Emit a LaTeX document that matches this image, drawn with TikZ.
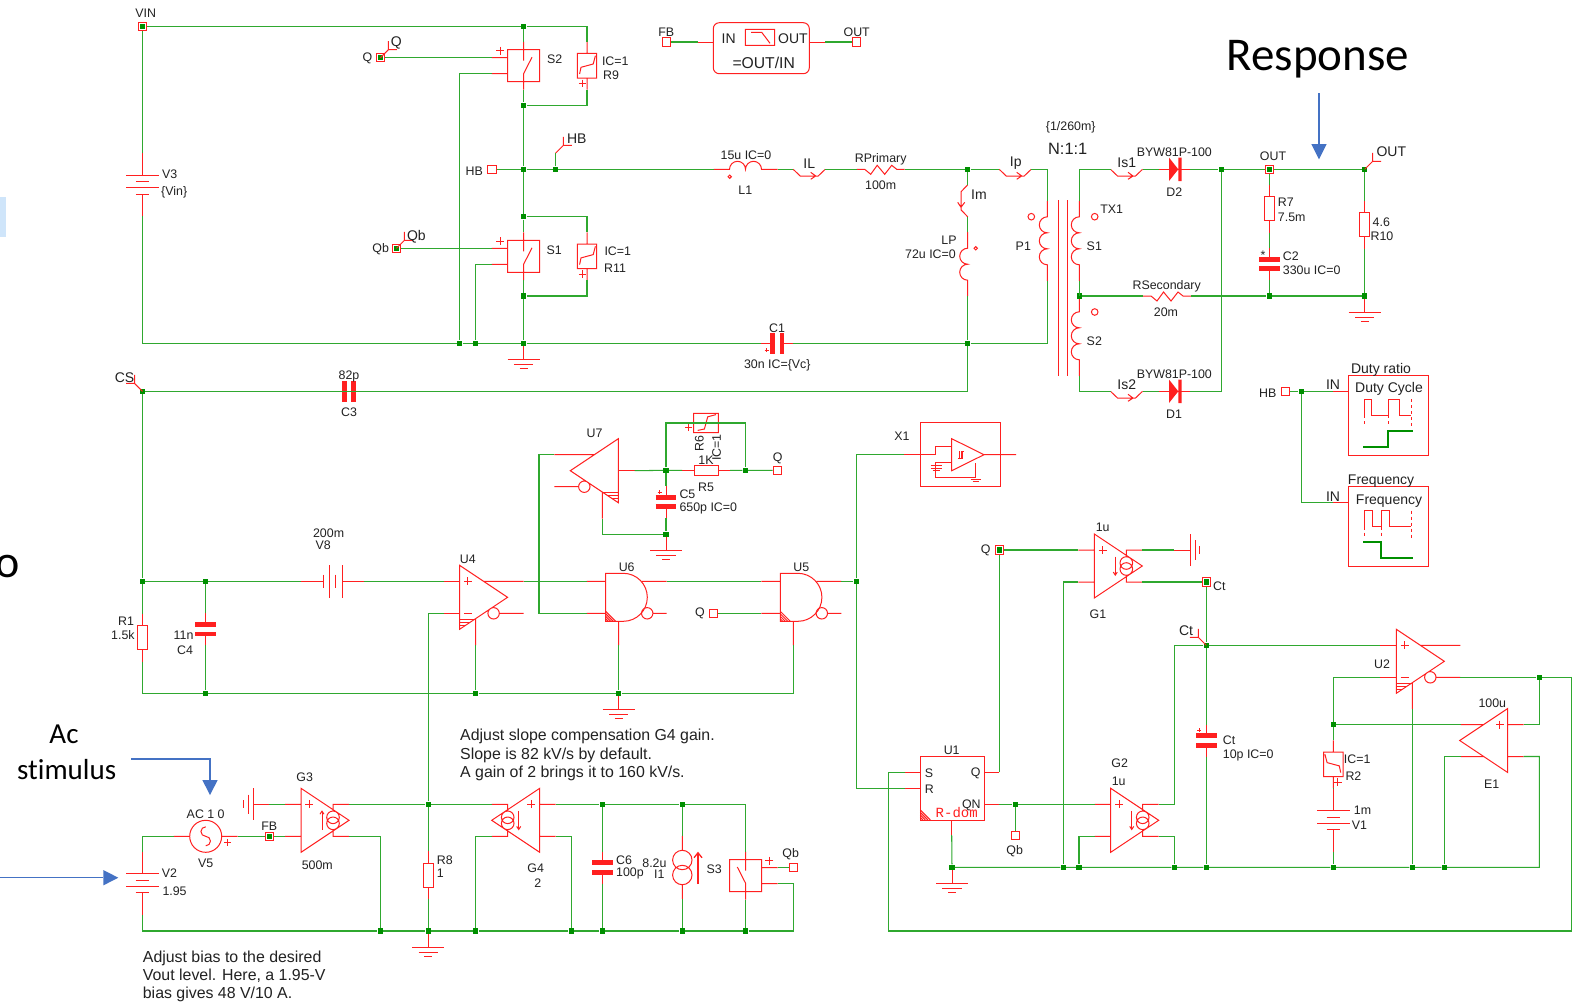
\documentclass[tikz,border=0pt]{standalone}
\usepackage{fontspec}
\setmainfont{Liberation Sans}
\newfontfamily\bigfont[Ligatures=NoCommon]{Carlito}
\newfontfamily\domfont{Liberation Mono}
\usetikzlibrary{arrows.meta}
\definecolor{colorWire}{HTML}{2FA82F}
\definecolor{colorDot}{HTML}{008F00}
\definecolor{colorPart}{HTML}{FF2020}
\definecolor{colorBlue}{HTML}{4472C4}
\definecolor{colorText}{HTML}{222222}
\definecolor{colorBar}{HTML}{CFE5FA}
\newcommand{\plusmark}[3]{\draw[part] (#1-#3,#2) -- (#1+#3,#2) (#1,#2-#3) -- (#1,#2+#3);}
\tikzset{
  wire/.style={draw=colorWire,line width=1.05pt},
  part/.style={draw=colorPart,line width=1pt},
  plate/.style={draw=colorPart,line width=4.7pt},
  jct/.style={rectangle,fill=colorDot,minimum size=5.4pt,inner sep=0pt},
  term/.style={rectangle,draw=colorPart,line width=1pt,minimum size=8.4pt,inner sep=0pt},
  lbl/.style={font=\fontsize{12.4}{14}\selectfont,text=colorText,inner sep=0pt,yshift=-1pt},
  flagt/.style={font=\fontsize{14}{16}\selectfont,text=colorText,inner sep=0pt,yshift=-1pt},
  notet/.style={font=\fontsize{15.9}{18.3}\selectfont,text=colorText,inner sep=0pt,align=left,anchor=west},
  bigt/.style={font=\bigfont\fontsize{29}{33}\selectfont,text=black,inner sep=0pt},
  blue/.style={draw=colorBlue,line width=1.4pt},
  bluehead/.style={fill=colorBlue},
  pics/gnd/.style={code={
    \coordinate (-a) at (0,0);
    \draw[part] (0,0) -- (0,16) (-16,16) -- (16,16) (-9.7,21) -- (9.7,21) (-3.9,25.5) -- (3.9,25.5);
  }},
  pics/res/.style={code={
    \coordinate (-a) at (0,-24);
    \coordinate (-b) at (0,24);
    \draw[part] (0,-24) -- (0,-12) (-5,-12) rectangle (5,12) (0,12) -- (0,24);
  }},
  pics/cap/.style={code={
    \coordinate (-a) at (0,-16);
    \coordinate (-b) at (0,16);
    \draw[part] (0,-16) -- (0,-4.7) (0,4.7) -- (0,16);
    \draw[plate] (-10.3,-4.7) -- (10.3,-4.7) (-10.3,4.7) -- (10.3,4.7);
  }},
  pics/batt/.style={code={
    \coordinate (-a) at (0,-31.6);
    \coordinate (-b) at (0,31.6);
    \draw[part] (0,-31.6) -- (0,-9.6) (-16.3,-9.6) -- (16.3,-9.6) (-6.7,-3) -- (6.7,-3)
      (-16.3,3) -- (16.3,3) (-6.7,9.6) -- (6.7,9.6) (0,9.6) -- (0,31.6);
  }},
  pics/coil/.style={code={
    \coordinate (-a) at (0,{-8*#1-16});
    \coordinate (-b) at (0,{8*#1+16});
    \draw[part] (0,{-8*#1-16}) -- (0,{-8*#1}) \foreach \k in {1,...,#1}{ arc[start angle=90,end angle=270,radius=8pt] } -- (0,{8*#1+16});
  }},
  pics/zig/.style={code={
    \coordinate (-a) at (-24,0);
    \coordinate (-b) at (24,0);
    \draw[part] (-24,0) -- (-16,0) -- (-10,5) -- (-3.5,-4) -- (4,5) -- (11,-4) -- (16,0) -- (24,0);
  }},
  pics/probe/.style={code={
    \coordinate (-a) at (-16,0);
    \coordinate (-b) at (16,0);
    \draw[part] (-16,0) -- (-9,6.7) -- (9,6.7) -- (16,0) (1.5,3) -- (6.5,6.7) -- (1.5,10);
  }},
  pics/diode/.style={code={
    \coordinate (-a) at (-15.3,0);
    \coordinate (-b) at (15.7,0);
    \draw[part] (-15.3,0) -- (-5,0) (4,0) -- (15.7,0);
    \fill[colorPart] (-5.3,-11.7) -- (4,0) -- (-5.3,11.7) -- cycle (4,-11.7) rectangle (7.4,11.7);
  }},
  pics/flag/.style={code={
    \coordinate (-a) at (0,0);
    \draw[part] (0,0) -- (8,-8) (8,-16.5) -- (8,-8) -- (16.5,-8);
  }},
  pics/sw/.style={code={
    \coordinate (-t) at (0,-24);
    \coordinate (-b) at (0,24);
    \coordinate (-c) at (-32,-8);
    \coordinate (-d) at (-32,8);
    \draw[part] (-16,-16) rectangle (16,16) (0,-24) -- (0,-5) (0,24) -- (0,8) -- (8.4,-8.5)
      (-32,-8) -- (-16,-8) (-32,8) -- (-16,8);
    \plusmark{-23.6}{-15}{4}
  }},
  pics/vres/.style={code={
    \coordinate (-a) at (0,-24);
    \coordinate (-b) at (0,24);
    \draw[part] (0,-24) -- (0,-12.3) (-9.7,-12.3) rectangle (9.7,12.3) (0,12.3) -- (0,24)
      (-7.4,8.3) -- (-6,1.6) -- (6.2,-1.7) -- (8.4,-10);
    \plusmark{-4.5}{17.7}{3.7}
  }},
  pics/comp/.style={code={
    \coordinate (-c) at (0,0);
    \coordinate (-o) at (64,-16);
    \coordinate (-n) at (64,16);
    \coordinate (-g) at (16,48);
    \draw[part] (0,-32) -- (48,0) -- (0,32) -- cycle (24,-16) -- (64,-16)
      (34,16) circle[radius=5.7pt] (39.7,16) -- (64,16) (16,21.3) -- (16,48);
    \foreach \h in {22,25,28}{ \draw[part] (0,\h) -- ({(32-\h)*1.5},\h); }
  }},
  pics/cin/.style={code={
    \coordinate (-a) at (-16,-16);
    \coordinate (-b) at (-16,16);
    \draw[part] (-16,-16) -- (0,-16) (-16,16) -- (0,16) (4.3,16) -- (12.3,16);
    \plusmark{8.3}{-16}{4}
  }},
  pics/gm/.style={code={
    \coordinate (-a) at (-16,-16);
    \coordinate (-b) at (-16,16);
    \coordinate (-p) at (48,-16);
    \coordinate (-q) at (48,16);
    \draw[part] (0,-32) -- (48,0) -- (0,32) -- cycle (-16,-16) -- (0,-16) (-16,16) -- (0,16)
      (48,-16) -- (32,-16) -- (32,-9.3) (48,16) -- (32,16) -- (32,9.3)
      (32,-3) circle[radius=6.3pt] (32,3) circle[radius=6.3pt];
    \draw[part,-{Straight Barb[length=3pt,width=4pt]}] (21,{-9.5*#1}) -- (21,{10*#1});
    \plusmark{8.3}{-16}{4}
  }},
  pics/opa/.style={code={
    \coordinate (-a) at (-16,-16);
    \coordinate (-b) at (-16,16);
    \coordinate (-p) at (47,-16);
    \coordinate (-q) at (47,16);
    \draw[part] (0,-32) -- (48,0) -- (0,32) -- cycle (-16,-16) -- (0,-16) (-16,16) -- (0,16)
      (24,-16) -- (47,-16) (24,16) -- (47,16);
    \plusmark{8}{-16}{4}
  }},
  pics/gate/.style={code={
    \coordinate (-a) at (-19,-16);
    \coordinate (-b) at (-19,16);
    \coordinate (-o) at (61,-16);
    \coordinate (-g) at (13,48);
    \draw[part] (17.6,-24) arc[start angle=90,end angle=-90,radius=24pt] -- (0,24) -- (0,-24) -- cycle;
    \draw[part] (-19,-16) -- (0,-16) (-19,16) -- (0,16) (36,-16) -- (61,-16) (13,24) -- (13,48)
      (41.5,16) circle[radius=5.7pt] (47.2,16) -- (61,16);
    \draw[part] (0,14) -- (10,24) (0,16.5) -- (7.5,24) (0,19) -- (5,24) (0,21.5) -- (2.5,24);
  }},
  pics/isrc/.style={code={
    \coordinate (-a) at (0,-31.7);
    \coordinate (-b) at (0,31.7);
    \draw[part] (0,-31.7) -- (0,-17.2) (0,17.2) -- (0,31.7)
      (0,-7.5) circle[radius=9.7pt] (0,7.5) circle[radius=9.7pt];
  }},
  pics/acsrc/.style={code={
    \coordinate (-a) at (-32,0);
    \coordinate (-b) at (32,0);
    \draw[part] (-32,0) -- (-16,0) (0,0) circle[radius=16pt] (16,0) -- (32,0)
      (0,-9.5) arc[start angle=90,end angle=270,radius=4.75pt] arc[start angle=90,end angle=-90,radius=4.75pt];
    \plusmark{22}{6.3}{3.3}
  }},
}
\begin{document}
\begin{tikzpicture}[x=1pt,y=-1pt]
  \useasboundingbox (0,0) rectangle (1584,1002);
  \fill[white] (0,0) rectangle (1584,1002);
  \fill[colorBar] (0,196.7) rectangle (6,236.7);
  \node[bigt,font=\bigfont\fontsize{46}{50}\selectfont] (tCut) at (7.5,566) {o};

  \pic (V3) at (142.5,184.7) {batt};
  \pic (S2) at (523.6,65.7) {sw};
  \pic (R9) at (587,65.7) {vres};
  \pic (S1) at (523.6,256.3) {sw};
  \pic (R11) at (587,256.3) {vres};
  \pic[rotate=-90] (L1) at (745.5,169.3) {coil=2};
  \pic (IL) at (809.2,169.3) {probe};
  \pic (RP) at (880.7,169.3) {zig};
  \pic[rotate=-90] (Im) at (967.7,200.8) {probe};
  \pic (LP) at (967.7,264.2) {coil=2};
  \pic (Ip) at (1015.2,169.3) {probe};
  \pic[rotate=90] (C1) at (777.3,343.3) {cap};
  \pic (P1) at (1047.3,240.8) {coil=3};
  \pic (S1c) at (1079.3,240.8) {coil=3};
  \pic (S2c) at (1079.3,335.8) {coil=3};
  \pic (Is1) at (1126.5,169.3) {probe};
  \pic (Is2) at (1126.5,391.3) {probe};
  \pic (D2) at (1174.3,169.3) {diode};
  \pic (D1) at (1174.3,391.3) {diode};
  \pic (RS) at (1167,296) {zig};
  \pic (R7) at (1269.3,208.7) {res};
  \pic (C2) at (1269.3,264) {cap};
  \pic (R10) at (1364.7,224.5) {res};
  \pic (gC) at (1364.7,296) {gnd};
  \pic (gA) at (523.6,343.3) {gnd};
  \pic[rotate=90] (C3) at (349,391.3) {cap};
  \pic (R1) at (142.5,637.5) {res};
  \pic (C4) at (205.4,629.3) {cap};
  \pic[rotate=-90] (V8) at (332.7,581.3) {batt};
  \pic (U4) at (459.6,597.3) {comp};
  \pic (U4) at (459.6,597.3) {cin};
  \pic[xscale=-1] (U7) at (618.3,470.7) {comp};
  \pic (U6) at (605.7,597.3) {gate};
  \pic (U5) at (780.3,597.3) {gate};
  \pic (gU6) at (618.7,693.3) {gnd};
  \pic[rotate=90] (R5) at (706,470.3) {res};
  \pic[rotate=-90,xscale=-1] (R6) at (706,423) {vres};
  \pic (C5) at (666,502) {cap};
  \pic (gC5) at (666,534.3) {gnd};
  \pic (G1) at (1094.3,566) {gm=1};
  \pic[rotate=90] (gG1) at (1174.3,550) {gnd};
  \pic (G2) at (1110.7,820.3) {gm=1};
  \pic (Ct) at (1206.3,740.5) {cap};
  \pic (U2) at (1396.3,661.3) {comp};
  \pic (U2) at (1396.3,661.3) {cin};
  \pic[xscale=-1] (E1) at (1507.7,740.5) {opa};
  \pic[xscale=-1] (R2) at (1333.3,764.3) {vres};
  \pic (V1) at (1333.3,820) {batt};
  \pic (gU1) at (952,867.3) {gnd};
  \pic (V5) at (205.7,836.3) {acsrc};
  \pic (V2) at (142.3,883.3) {batt};
  \pic (G3) at (301,820.3) {gm=-1};
  \pic[rotate=-90] (gG3) at (269.3,804.3) {gnd};
  \pic[xscale=-1] (G4) at (539.7,820.3) {gm=1};
  \pic (R8) at (428.3,875.3) {res};
  \pic (gR8) at (428.3,931) {gnd};
  \pic (C6) at (602.3,867.5) {cap};
  \pic (I1) at (682.3,867.5) {isrc};
  \pic[xscale=-1] (S3) at (745.7,875.5) {sw};

  \node[term] (vinT) at (142.5,26.3) {};
  \node[term] (qT) at (380.4,57.7) {};
  \node[term] (qbT) at (396.4,248.3) {};
  \node[term] (hbT) at (491.8,169.3) {};
  \node[term] (fbT) at (666.3,42) {};
  \node[term] (outT) at (856.7,42) {};
  \node[term] (voT) at (1269.3,169.3) {};
  \node[term] (hbrT) at (1285.7,391.3) {};
  \node[term] (q5T) at (777.3,470.3) {};
  \node[term] (q6T) at (713.7,613.3) {};
  \node[term] (qrT) at (999.3,550) {};
  \node[term] (ctT) at (1206.3,582) {};
  \node[term] (qb2T) at (1015.3,835.7) {};
  \node[term] (fb2T) at (269.3,836.3) {};
  \node[term] (qb3T) at (793.3,867.5) {};

  \node[jct] (vinD) at (142.5,26.3) {};
  \node[jct] (qD) at (380.4,57.7) {};
  \node[jct] (qbD) at (396.4,248.3) {};
  \node[jct] (voD) at (1269.3,169.3) {};
  \node[jct] (qrD) at (999.3,550) {};
  \node[jct] (ctD) at (1206.3,582) {};
  \node[jct] (fb2D) at (269.3,836.3) {};
  \node[jct] (jTop) at (523.6,26.3) {};
  \node[jct] (jS2b) at (523.6,105.3) {};
  \node[jct] (jHB) at (523.6,169.3) {};
  \node[jct] (jHBf) at (555.4,169.3) {};
  \node[jct] (jS1t) at (523.6,216.7) {};
  \node[jct] (jS1b) at (523.6,296) {};
  \node[jct] (jGa) at (459.6,343.3) {};
  \node[jct] (jGb) at (475.4,343.3) {};
  \node[jct] (jGc) at (523.6,343.3) {};
  \node[jct] (jLP) at (967.7,169.3) {};
  \node[jct] (jC1) at (967.7,343.3) {};
  \node[jct] (jSec) at (1079.3,296) {};
  \node[jct] (jOa) at (1221.3,169.3) {};
  \node[jct] (jOb) at (1364.7,169.3) {};
  \node[jct] (jC2) at (1269.3,296) {};
  \node[jct] (jRb) at (1364.7,296) {};
  \node[jct] (jHBr) at (1301.3,391.3) {};
  \node[jct] (jCS) at (142.5,391.3) {};
  \node[jct] (jR1) at (142.5,581.3) {};
  \node[jct] (jC4t) at (205.4,581.3) {};
  \node[jct] (jC4b) at (205.4,693.3) {};
  \node[jct] (jU4) at (475.6,693.3) {};
  \node[jct] (jU6) at (618.7,693.3) {};
  \node[jct] (jA) at (666,470.3) {};
  \node[jct] (jB) at (745.3,470.3) {};
  \node[jct] (jC5) at (666,534.3) {};
  \node[jct] (jX) at (856.3,581.3) {};
  \node[jct] (jCt) at (1206.3,645.3) {};
  \node[jct] (jCb) at (1206.3,867.3) {};
  \node[jct] (jU1) at (952,867.3) {};
  \node[jct] (jG1) at (1063.3,867.3) {};
  \node[jct] (jG2a) at (1079,867.3) {};
  \node[jct] (jG2b) at (1174.3,867.3) {};
  \node[jct] (jQb) at (1015.3,804.3) {};
  \node[jct] (jV1) at (1333.3,867.3) {};
  \node[jct] (jU2) at (1412.3,867.3) {};
  \node[jct] (jE1) at (1444.3,867.3) {};
  \node[jct] (jUa) at (1539.3,677.3) {};
  \node[jct] (jUb) at (1333.3,724.5) {};
  \node[jct] (jG3) at (428.3,804.3) {};
  \node[jct] (jC6t) at (602.3,804.3) {};
  \node[jct] (jI1t) at (682.3,804.3) {};
  \node[jct] (jBa) at (380.3,931) {};
  \node[jct] (jBb) at (428.3,931) {};
  \node[jct] (jBc) at (475.7,931) {};
  \node[jct] (jBd) at (571.3,931) {};
  \node[jct] (jBe) at (602.3,931) {};
  \node[jct] (jBf) at (682.3,931) {};
  \node[jct] (jBg) at (745.7,931) {};

  \pic (fQ) at (380.4,57.7) {flag};
  \pic (fQb) at (396.4,248.3) {flag};
  \pic (fHB) at (555.4,153.3) {flag};
  \pic (fOUT) at (1364.7,169.3) {flag};
  \pic[xscale=-1] (fCS) at (142.5,391.3) {flag};
  \pic[xscale=-1] (fCt) at (1206.3,645.3) {flag};

  \coordinate (bendU) at (539,534);
  \coordinate (U7i) at (634.6,470.7);
  \coordinate (fIn) at (698.3,42);
  \coordinate (fOut) at (825,42);
  \coordinate (dcIn) at (1333.3,391.3);
  \coordinate (frIn) at (1333.3,502.3);
  \coordinate (x1In) at (904.3,454.7);
  \coordinate (u1S) at (905,772.3);
  \coordinate (u1R) at (905,788.3);
  \coordinate (u1Q) at (999.3,772.3);
  \coordinate (u1N) at (999.3,804.3);
  \coordinate (u1G) at (951.7,835);
  \coordinate (cLoop) at (888.3,931);
  \coordinate (cRight) at (1571.7,677.3);
  \coordinate (cE1) at (1539.3,756.5);
  \coordinate (cG2) at (1174.3,804.3);
  \coordinate (cS3) at (793.3,883.5);
  \draw[part] (U7-c) -- (U7i);

  \draw[wire] (vinT) -- (jTop) -| (R9-a);
  \draw[wire] (vinT) -- (V3-a) (V3-b) |- (jGa) -- (jGb) -- (jGc) -- (C1-a) (C1-b) -- (jC1) -| (P1-b);
  \draw[wire] (qT) -- (S2-c) (S2-d) -| (jGa);
  \draw[wire] (qbT) -- (S1-c) (S1-d) -| (jGb);
  \draw[wire] (jTop) -- (S2-t) (S2-b) -- (jS2b) -- (jHB) -- (jS1t) -- (S1-t) (S1-b) -- (jS1b) -- (jGc);
  \draw[wire] (R9-b) |- (jS2b) (jS1t) -| (R11-a) (R11-b) |- (jS1b);
  \draw[wire] (hbT) -- (jHB) -- (jHBf) -- (L1-b) (L1-a) -- (IL-a) (IL-b) -- (RP-a) (RP-b) -- (jLP) -- (Ip-a) (Ip-b) -| (P1-a);
  \draw[wire] (jHBf) -- (fHB-a);
  \draw[wire] (jLP) -- (Im-a) (Im-b) -- (LP-a) (LP-b) -- (jC1) |- (C3-a) (C3-b) -- (jCS);
  \draw[wire] (fbT) -- (fIn) (fOut) -- (outT);
  \draw[wire] (Is1-a) -| (S1c-a) (S1c-b) -- (jSec) -- (S2c-a) (S2c-b) |- (Is2-a);
  \draw[wire] (Is1-b) -- (D2-a) (D2-b) -- (jOa) -- (voT) -- (jOb) -- (R10-a) (R10-b) -- (jRb);
  \draw[wire] (Is2-b) -- (D1-a) (D1-b) -| (jOa);
  \draw[wire] (jSec) -- (RS-a) (RS-b) -- (jC2) -- (jRb);
  \draw[wire] (voT) -- (R7-a) (R7-b) -- (C2-a) (C2-b) -- (jC2);
  \draw[wire] (hbrT) -- (jHBr) -- (dcIn) (jHBr) |- (frIn);
  \draw[wire] (jCS) -- (jR1) -- (R1-a) (R1-b) |- (jC4b) -- (jU4) -- (jU6) -| (U5-g);
  \draw[wire] (jR1) -- (jC4t) -- (V8-b) (V8-a) -- (U4-a) (jC4t) -- (C4-a) (C4-b) -- (jC4b);
  \draw[wire] (U4-g) -- (jU4) (U6-g) -- (jU6);
  \draw[wire] (U4-b) -| (jG3);
  \draw[wire] (U4-o) -- (U6-a) (U6-o) -- (U5-a) (U5-o) -- (jX);
  \draw[wire] (U7-o) -| (bendU) |- (U6-b);
  \draw[wire] (U7i) -- (jA) -- (R5-a) (R5-b) -- (jB) -- (q5T);
  \draw[wire] (jA) |- (R6-a) (R6-b) -| (jB);
  \draw[wire] (jA) -- (C5-a) (C5-b) -- (jC5) -| (U7-g);
  \draw[wire] (q6T) -- (U5-b);
  \draw[wire] (jX) |- (x1In) (jX) |- (u1R);
  \draw[wire] (u1S) -| (cLoop) -| (cRight) -- (jUa) -- (U2-n);
  \draw[wire] (u1Q) -- (qrT) -- (G1-a) (G1-b) -| (jG1);
  \draw[wire] (G1-p) -- (gG1-a) (G1-q) -- (ctT) -- (jCt) -- (Ct-a) (Ct-b) -- (jCb);
  \draw[wire] (jCt) -- (U2-a) (jCt) -| (cG2) -- (G2-p);
  \draw[wire] (u1N) -- (jQb) -- (G2-a) (jQb) -- (qb2T);
  \draw[wire] (G2-b) -| (jG2a) (G2-q) -| (jG2b);
  \draw[wire] (u1G) -- (jU1) -- (jG1) -- (jG2a) -- (jG2b) -- (jCb) -- (jV1) -- (jU2) -- (jE1) -| (cE1) -- (E1-b);
  \draw[wire] (U2-g) -- (jU2) (U2-b) -| (jUb) (jUb) -- (E1-p) (E1-q) -| (jE1) (E1-a) -| (jUa);
  \draw[wire] (jUb) -- (R2-a) (R2-b) -- (V1-a) (V1-b) -- (jV1);
  \draw[wire] (V5-a) -| (V2-a) (V2-b) |- (jBa) -- (jBb) -- (jBc) -- (jBd) -- (jBe) -- (jBf) -- (jBg) -| (cS3) -- (S3-d);
  \draw[wire] (V5-b) -- (fb2T) -- (G3-b) (G3-a) -- (gG3-a);
  \draw[wire] (G3-p) -- (jG3) -- (G4-p) (G4-a) -- (jC6t) -- (jI1t) -| (S3-t) (S3-b) -- (jBg);
  \draw[wire] (G3-q) -| (jBa) (G4-q) -| (jBc) (G4-b) -| (jBd);
  \draw[wire] (jG3) -- (R8-a) (R8-b) -- (jBb);
  \draw[wire] (jC6t) -- (C6-a) (C6-b) -- (jBe) (jI1t) -- (I1-a) (I1-b) -- (jBf);
  \draw[wire] (S3-c) -- (qb3T);

  \draw[part,rounded corners=6pt] (713.3,22.7) rectangle (809.3,73.7);
  \draw[part] (fIn) -- (713.3,42) (809.3,42) -- (fOut);
  \draw[part] (745.3,29.3) rectangle (774.7,45.3) (751,32.3) -- (761.7,32.3) -- (770,43.3);
  \draw[part] (1058.7,200) -- (1058.7,375.7) (1067.7,200) -- (1067.7,375.7);
  \draw[part] (1031.3,216.7) circle[radius=3.3pt] (1094.7,216.7) circle[radius=3.3pt] (1094.7,312) circle[radius=3.3pt];
  \draw[part] (729.7,176.7) circle[radius=1.7pt] (975.7,248.3) circle[radius=1.7pt];
  \draw[part] (dcIn) -- (1348.7,391.3) (frIn) -- (1348.7,502.3);
  \draw[part] (1348.7,375.7) rectangle (1428.7,455) (1348.7,486.7) rectangle (1428.7,566);
  \draw[part] (1364.3,415) -- (1364.3,399.3) -- (1371.7,399.3) -- (1371.7,415) -- (1388.3,415) -- (1388.3,399.3) -- (1399.7,399.3) -- (1399.7,415) -- (1411,415);
  \draw[part,dashed] (1364.3,415) -- (1364.3,426.7) (1388.3,415) -- (1388.3,426.7) (1411,399.3) -- (1411,426.7);
  \draw[colorDot,line width=2pt] (1363.3,446.7) -- (1388.3,446.7) -- (1388.3,430.7) -- (1412.7,430.7);
  \draw[part] (1364.3,526.7) -- (1364.3,510.7) -- (1372.7,510.7) -- (1372.7,526.7) -- (1381,526.7) -- (1381,510.7) -- (1389,510.7) -- (1389,526.7) -- (1411,526.7);
  \draw[part,dashed] (1364.3,526.7) -- (1364.3,538.3) (1381,526.7) -- (1381,538.3) (1411,510.7) -- (1411,538.3);
  \draw[colorDot,line width=2pt] (1363.3,542.3) -- (1381,542.3) -- (1381,558.3) -- (1412.7,558.3);
  \draw[part] (x1In) -- (935.7,454.7) -- (935.7,446.7) -- (951.7,446.7);
  \draw[part] (920,422.7) rectangle (1000,486.7);
  \draw[part] (951.7,438.7) -- (984,454.7) -- (951.7,470.7) -- cycle (984,454.7) -- (1016,454.7);
  \draw[part] (951.7,462.7) -- (935.7,462.7) -- (935.7,477.3) -- (975.7,477.3) -- (975.7,463.3);
  \draw[part] (930.7,465.7) -- (941.7,465.7) (930.7,468) -- (941.7,468) (932.7,470.3) -- (939.7,470.3);
  \draw[part] (970.7,479) -- (980.7,479) (972.7,481.7) -- (978.7,481.7);
  \draw[part] (958,458.7) -- (961,458.7) -- (961,451) -- (964,451) (959.7,458.7) -- (959.7,451) (962.3,458.7) -- (962.3,451);
  \draw[part] (920.3,756.3) rectangle (984,820);
  \draw[part] (905,772.3) -- (920.3,772.3) (905,788.3) -- (920.3,788.3) (984,772.3) -- (u1Q) (984,804.3) -- (u1N);
  \draw[part] (951.7,820) -- (u1G);
  \draw[part] (920.3,810) -- (930.3,820) (920.3,812.5) -- (927.8,820) (920.3,815) -- (925.3,820) (920.3,817.5) -- (922.8,820);
  \draw[part,line width=1.3pt,-{Straight Barb[length=5pt,width=8pt]}] (698,884) -- (698,851.7);
  \plusmark{766.7}{350}{2}
  \plusmark{1199.3}{730}{2}
  \plusmark{659.7}{492}{2}
  \node[lbl] (tStar) at (1263,254.5) {*};

  \coordinate (aRa) at (1319,93);
  \coordinate (aRb) at (1319,145);
  \coordinate (aAa) at (131,759);
  \coordinate (aAb) at (210,780);
  \coordinate (aVa) at (0,877.7);
  \coordinate (aVb) at (103.3,877.7);
  \draw[blue] (aRa) -- (aRb);
  \draw[blue] (aAa) -| (aAb);
  \draw[blue] (aVa) -- (aVb);
  \fill[bluehead] (1311.3,144) -- (1326.7,144) -- (1319,159.3) -- cycle;
  \fill[bluehead] (202.3,780) -- (217.7,780) -- (210,795) -- cycle;
  \fill[bluehead] (103.3,870) -- (103.3,885.4) -- (118.3,877.7) -- cycle;

  \node[lbl] (tVIN) at (145.7,12) {VIN};
  \node[lbl,anchor=west] (tV3) at (161.8,173.7) {V3};
  \node[lbl,anchor=west] (tVin) at (161,191.3) {\{Vin\}};
  \node[flagt] (tQa) at (396.4,42) {Q};
  \node[lbl] (tQb) at (367.5,57.3) {Q};
  \node[flagt] (tQbf) at (416.4,235.3) {Qb};
  \node[lbl] (tQbl) at (380.7,248.3) {Qb};
  \node[flagt] (tHB) at (576.8,137.7) {HB};
  \node[lbl] (tHBl) at (474.3,170.3) {HB};
  \node[lbl] (tS2) at (554.6,58.7) {S2};
  \node[lbl] (tS1) at (554.3,249) {S1};
  \node[lbl,anchor=west] (tIC9) at (601.8,60) {IC=1};
  \node[lbl,anchor=west] (tR9) at (603,74.3) {R9};
  \node[lbl,anchor=west] (tIC11) at (604.3,250.7) {IC=1};
  \node[lbl,anchor=west] (tR11) at (604,267) {R11};
  \node[lbl] (tFB) at (666.3,31) {FB};
  \node[lbl] (tOUTa) at (856.7,31) {OUT};
  \node[flagt] (tIN) at (728.7,37.7) {IN};
  \node[flagt] (tOUTb) at (793,37.7) {OUT};
  \node[lbl,font=\fontsize{15.7}{18}\selectfont] (tTF) at (763.7,62.3) {=OUT/IN};
  \node[lbl] (tL1v) at (746,154.3) {15u IC=0};
  \node[lbl] (tL1) at (745.3,189.3) {L1};
  \node[flagt] (tIL) at (809.3,162.3) {IL};
  \node[lbl] (tRP) at (880.7,158.7) {RPrimary};
  \node[lbl] (tRPv) at (880.7,184) {100m};
  \node[flagt] (tIp) at (1015.7,162.3) {Ip};
  \node[flagt] (tIm) at (979,193.3) {Im};
  \node[lbl] (tLP) at (949,239.3) {LP};
  \node[lbl,anchor=east] (tLPv) at (956,253.3) {72u IC=0};
  \node[lbl] (tC1) at (777,327.3) {C1};
  \node[lbl] (tC1v) at (777.3,364) {30n IC=\{Vc\}};
  \node[lbl] (tN) at (1070.7,126) {\{1/260m\}};
  \node[lbl,font=\fontsize{16.4}{18}\selectfont] (tNr) at (1067.7,147.7) {N:1:1};
  \node[lbl] (tP1) at (1023.3,245) {P1};
  \node[lbl] (tTX1) at (1111.7,208.7) {TX1};
  \node[lbl] (tS1c) at (1094.3,245) {S1};
  \node[lbl] (tS2c) at (1094.3,340) {S2};
  \node[flagt] (tIs1) at (1126.7,162) {Is1};
  \node[flagt] (tIs2) at (1126.7,384) {Is2};
  \node[lbl] (tBa) at (1174.3,151) {BYW81P-100};
  \node[lbl] (tBb) at (1174.3,373.3) {BYW81P-100};
  \node[lbl] (tD2) at (1174.3,191) {D2};
  \node[lbl] (tD1) at (1174,413.3) {D1};
  \node[lbl] (tOUTc) at (1273,155) {OUT};
  \node[flagt] (tOUTd) at (1391.3,150.7) {OUT};
  \node[lbl,anchor=west] (tR7) at (1277.7,201.3) {R7};
  \node[lbl,anchor=west] (tR7v) at (1277.7,216.3) {7.5m};
  \node[lbl,anchor=west] (tC2) at (1282.7,255.3) {C2};
  \node[lbl,anchor=west] (tC2v) at (1282.7,269) {330u IC=0};
  \node[lbl] (tR10v) at (1381.3,221.7) {4.6};
  \node[lbl] (tR10) at (1382,235.3) {R10};
  \node[lbl] (tRS) at (1166.7,285.3) {RSecondary};
  \node[lbl] (tRSv) at (1166,311) {20m};
  \node[lbl] (tHBr) at (1267.7,392.7) {HB};
  \node[flagt] (tINa) at (1333,384) {IN};
  \node[flagt] (tINb) at (1333,495.3) {IN};
  \node[flagt] (tDR) at (1381,369.3) {Duty ratio};
  \node[flagt] (tDC) at (1389,388.3) {Duty Cycle};
  \node[flagt] (tFq) at (1381,480.3) {Frequency};
  \node[flagt] (tFqi) at (1389,499.7) {Frequency};
  \node[flagt] (tCS) at (124.6,377) {CS};
  \node[lbl] (tC3v) at (349,375) {82p};
  \node[lbl] (tC3) at (349,411.7) {C3};
  \node[lbl] (tR1) at (126,620.7) {R1};
  \node[lbl] (tR1v) at (122.9,634.3) {1.5k};
  \node[lbl] (tC4v) at (183.6,634.3) {11n};
  \node[lbl] (tC4) at (185,649) {C4};
  \node[lbl] (tV8v) at (328.6,532.3) {200m};
  \node[lbl] (tV8) at (323.2,544.3) {V8};
  \node[lbl] (tU4) at (467.9,558.7) {U4};
  \node[lbl] (tU7) at (594.6,432) {U7};
  \node[lbl] (tU6) at (626.7,566.7) {U6};
  \node[lbl] (tU5) at (801.3,566.7) {U5};
  \node[lbl] (tQ5) at (777.7,457.3) {Q};
  \node[lbl] (tQ6) at (700,612.3) {Q};
  \node[lbl] (tR5) at (706,486.7) {R5};
  \node[lbl] (tR5v) at (706,459.3) {1K};
  \node[lbl,rotate=90] (tR6) at (699.3,442.3) {R6};
  \node[lbl,rotate=90] (tR6v) at (716.7,446.7) {IC=1};
  \node[lbl,anchor=west] (tC5) at (679.3,493.7) {C5};
  \node[lbl,anchor=west] (tC5v) at (679.3,507.3) {650p IC=0};
  \node[lbl] (tX1) at (902,435.7) {X1};
  \node[lbl] (tQr) at (985.7,549) {Q};
  \node[lbl] (tG1v) at (1102.7,526.3) {1u};
  \node[lbl] (tG1) at (1098,613.3) {G1};
  \node[lbl,anchor=west] (tCta) at (1213,585) {Ct};
  \node[flagt] (tCtf) at (1186,629.3) {Ct};
  \node[lbl,anchor=west] (tCt) at (1222.7,739.7) {Ct};
  \node[lbl,anchor=west] (tCtv) at (1222.7,754.7) {10p IC=0};
  \node[lbl] (tG2) at (1119.7,762.3) {G2};
  \node[lbl] (tG2v) at (1118.7,780.3) {1u};
  \node[lbl] (tU1) at (951.7,749.7) {U1};
  \node[lbl] (tS) at (929,772.7) {S};
  \node[lbl] (tR) at (929.3,788.7) {R};
  \node[lbl] (tQo) at (975.7,772.7) {Q};
  \node[lbl] (tQN) at (971.3,804) {QN};
  \node[inner sep=0pt,text=colorPart,font=\domfont\fontsize{14}{16}\selectfont] (tDom) at (956.7,813) {R-dom};
  \node[lbl] (tQb2) at (1014.7,850) {Qb};
  \node[lbl] (tU2) at (1382,663.7) {U2};
  \node[lbl] (tE1v) at (1492.3,702) {100u};
  \node[lbl] (tE1) at (1491.7,783.3) {E1};
  \node[lbl,anchor=west] (tIC2) at (1343.7,758.7) {IC=1};
  \node[lbl,anchor=west] (tR2) at (1345.3,775) {R2};
  \node[lbl,anchor=west] (tV1v) at (1353.7,809.7) {1m};
  \node[lbl,anchor=west] (tV1) at (1351.7,824) {V1};
  \node[lbl] (tAC) at (205.7,813.3) {AC 1 0};
  \node[lbl] (tV5) at (205.7,862.7) {V5};
  \node[lbl,anchor=west] (tV2) at (161.7,872.3) {V2};
  \node[lbl,anchor=west] (tV2v) at (162.3,890.3) {1.95};
  \node[lbl] (tFB2) at (269.3,825) {FB};
  \node[lbl] (tG3) at (304.7,776.7) {G3};
  \node[lbl] (tG3v) at (317.3,864) {500m};
  \node[lbl,anchor=west] (tR8) at (436.7,859) {R8};
  \node[lbl,anchor=west] (tR8v) at (436.7,872.3) {1};
  \node[lbl] (tG4) at (535.7,867.5) {G4};
  \node[lbl] (tG4v) at (537.7,882) {2};
  \node[lbl,anchor=west] (tC6) at (616,859) {C6};
  \node[lbl,anchor=west] (tC6v) at (616,872.7) {100p};
  \node[lbl,anchor=east] (tI1v) at (666.7,862) {8.2u};
  \node[lbl] (tI1) at (659.3,873.3) {I1};
  \node[lbl] (tS3) at (714.3,868.7) {S3};
  \node[lbl] (tQb3) at (790.7,852.7) {Qb};
  \node[notet] (tNoteA) at (460,755) {Adjust slope compensation G4 gain.\\Slope is 82 kV/s by default.\\A gain of 2 brings it to 160 kV/s.};
  \node[notet] (tNoteB) at (142.7,976.5) {Adjust bias to the desired\\Vout level. Here, a 1.95-V\\bias gives 48 V/10 A.};
  \node[bigt] (tAc) at (64,734) {Ac};
  \node[bigt] (tStim) at (66.7,769.3) {stimulus};
  \node[bigt,font=\bigfont\fontsize{47}{50}\selectfont] (tResp) at (1318,59) {Response};
\end{tikzpicture}
\end{document}
